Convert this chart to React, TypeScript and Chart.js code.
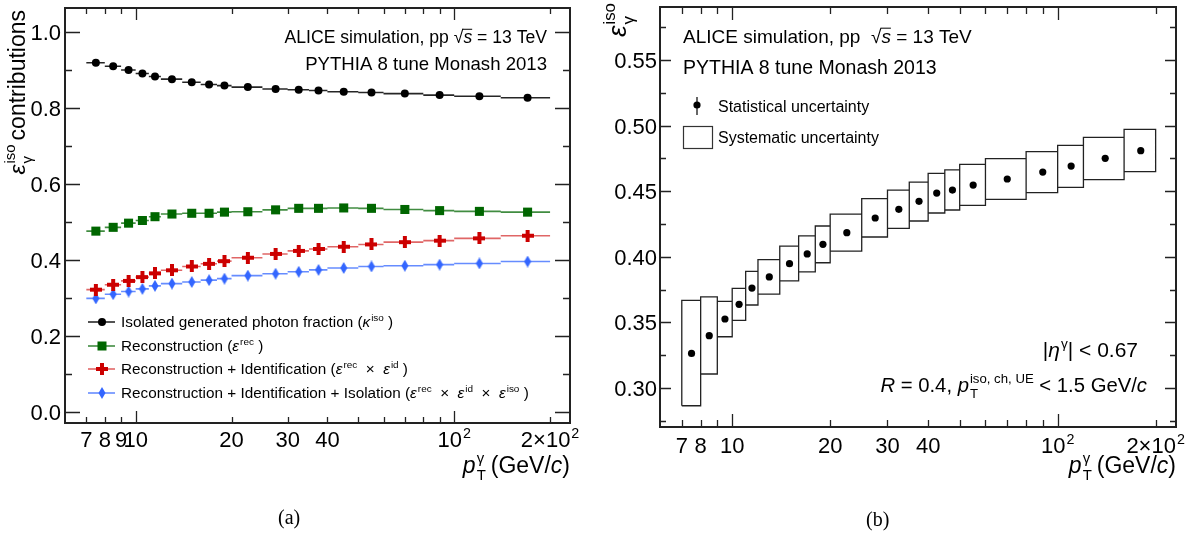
import React, { useEffect, useRef } from "react";
import { Chart, registerables } from "chart.js";
Chart.register(...registerables);

// ---------- Panel (a) data ----------
const binEdgesA = [7, 8, 9, 10, 11, 12, 14, 16, 18, 20, 25, 30, 35, 40, 50, 60, 80, 100, 140, 200];
const kappaIso = [0.919, 0.91, 0.9, 0.891, 0.883, 0.876, 0.868, 0.862, 0.859, 0.855, 0.85, 0.848, 0.846, 0.843, 0.841, 0.838, 0.834, 0.831, 0.827];
const epsRec = [0.476, 0.486, 0.497, 0.504, 0.514, 0.521, 0.523, 0.523, 0.526, 0.527, 0.532, 0.536, 0.536, 0.537, 0.536, 0.533, 0.53, 0.528, 0.526];
const epsRecId = [0.322, 0.335, 0.345, 0.355, 0.365, 0.373, 0.383, 0.39, 0.397, 0.406, 0.416, 0.424, 0.429, 0.435, 0.441, 0.447, 0.451, 0.457, 0.464];
const epsRecIdIso = [0.299, 0.31, 0.317, 0.324, 0.332, 0.338, 0.342, 0.347, 0.351, 0.359, 0.364, 0.369, 0.374, 0.379, 0.383, 0.385, 0.388, 0.391, 0.396];
const xTickValsA = [7, 8, 9, 10, 20, 30, 40, 100, 200];
const xTickLabelsA = ["7", "8", "9", "10", "20", "30", "40", "10^2", "2×10^2"];
const yTickValsA = [0, 0.2, 0.4, 0.6, 0.8, 1.0];
const yTickLabelsA = ["0.0", "0.2", "0.4", "0.6", "0.8", "1.0"];
const yMinorA = [0.1, 0.3, 0.5, 0.7, 0.9];

// ---------- Panel (b) data ----------
const binEdgesB = [7, 8, 9, 10, 11, 12, 14, 16, 18, 20, 25, 30, 35, 40, 45, 50, 60, 80, 100, 120, 160, 200];
const effIso = [0.3264, 0.3399, 0.3526, 0.3638, 0.3762, 0.3847, 0.3948, 0.4022, 0.4095, 0.4184, 0.4296, 0.4362, 0.4423, 0.4486, 0.4509, 0.4547, 0.4593, 0.4646, 0.4692, 0.4751, 0.4809];
const sysHigh = [0.3668, 0.3694, 0.3661, 0.376, 0.3889, 0.3979, 0.4082, 0.4159, 0.4235, 0.4326, 0.4443, 0.4509, 0.457, 0.4636, 0.4662, 0.4705, 0.4748, 0.4801, 0.4849, 0.4911, 0.4972];
const sysLow = [0.2865, 0.3107, 0.3391, 0.3516, 0.3633, 0.3716, 0.3816, 0.3886, 0.3955, 0.4044, 0.4151, 0.4217, 0.4273, 0.4334, 0.4357, 0.4392, 0.4438, 0.4489, 0.453, 0.4588, 0.4649];
const xTickValsB = [7, 8, 10, 20, 30, 40, 100, 200];
const xTickLabelsB = ["7", "8", "10", "20", "30", "40", "10^2", "2×10^2"];
const yTickValsB = [0.3, 0.35, 0.4, 0.45, 0.5, 0.55];
const yTickLabelsB = ["0.30", "0.35", "0.40", "0.45", "0.50", "0.55"];
const yMinorB = [0.275, 0.325, 0.375, 0.425, 0.475, 0.525, 0.575];

const xMajor = [10, 100];
const xMinor = [7, 8, 9, 20, 30, 40, 50, 60, 70, 80, 90, 200];

const FONT = '"Liberation Sans", Arial, Helvetica, sans-serif';

type Part = { t?: string; i?: boolean; sup?: string; sub?: string; over?: boolean; gap?: number };

function fnt(size: number, italic?: boolean) {
  return `${italic ? "italic " : ""}${size}px ${FONT}`;
}

function richWidth(ctx: CanvasRenderingContext2D, parts: Part[], size: number) {
  let w = 0;
  for (const p of parts) {
    if (p.gap) w += p.gap;
    if (p.t) {
      ctx.font = fnt(size, p.i);
      w += ctx.measureText(p.t).width;
    }
    if (p.sup || p.sub) {
      ctx.font = fnt(size * 0.65);
      const a = p.sup ? ctx.measureText(p.sup).width : 0;
      const b = p.sub ? ctx.measureText(p.sub).width : 0;
      w += Math.max(a, b) + 1;
    }
  }
  return w;
}

function drawRich(ctx: CanvasRenderingContext2D, x: number, y: number, parts: Part[], size: number, align = "left", color = "#000") {
  const w = richWidth(ctx, parts, size);
  let cx = align === "left" ? x : align === "right" ? x - w : x - w / 2;
  ctx.fillStyle = color;
  ctx.strokeStyle = color;
  ctx.textAlign = "left";
  ctx.textBaseline = "alphabetic";
  for (const p of parts) {
    if (p.gap) cx += p.gap;
    if (p.t) {
      ctx.font = fnt(size, p.i);
      ctx.fillText(p.t, cx, y);
      const tw = ctx.measureText(p.t).width;
      if (p.over) {
        ctx.lineWidth = 1;
        ctx.beginPath();
        ctx.moveTo(cx - 1, y - size * 0.78);
        ctx.lineTo(cx + tw, y - size * 0.78);
        ctx.stroke();
      }
      cx += tw;
    }
    if (p.sup || p.sub) {
      ctx.font = fnt(size * 0.65);
      let a = 0, b = 0;
      if (p.sup) {
        ctx.fillText(p.sup, cx + 1, y - size * 0.42);
        a = ctx.measureText(p.sup).width;
      }
      if (p.sub) {
        ctx.fillText(p.sub, cx + 1, y + size * 0.3);
        b = ctx.measureText(p.sub).width;
      }
      cx += Math.max(a, b) + 1;
    }
  }
}

function labelParts(s: string): Part[] {
  const k = s.indexOf("^");
  if (k < 0) return [{ t: s }];
  return [{ t: s.slice(0, k) }, { sup: s.slice(k + 1) }];
}

function drawFrame(chart: any, xMaj: number, xMin: number, yMaj: number, yMin: number, yMajVals: number[], yMinVals: number[]) {
  const ctx: CanvasRenderingContext2D = chart.ctx;
  const { left, right, top, bottom } = chart.chartArea;
  const xs = chart.scales.x, ys = chart.scales.y;
  ctx.strokeStyle = "#222";
  ctx.lineWidth = 1.3;
  ctx.beginPath();
  const xt = [...xMajor.map((v) => [v, xMaj]), ...xMinor.map((v) => [v, xMin])];
  for (const [v, len] of xt) {
    const px = Math.round(xs.getPixelForValue(v)) + 0.5;
    ctx.moveTo(px, bottom); ctx.lineTo(px, bottom - len);
    ctx.moveTo(px, top); ctx.lineTo(px, top + len);
  }
  const yt = [...yMajVals.map((v) => [v, yMaj]), ...yMinVals.map((v) => [v, yMin])];
  for (const [v, len] of yt) {
    const py = Math.round(ys.getPixelForValue(v)) + 0.5;
    ctx.moveTo(left, py); ctx.lineTo(left + len, py);
    ctx.moveTo(right, py); ctx.lineTo(right - len, py);
  }
  ctx.stroke();
  ctx.lineWidth = 2;
  ctx.strokeRect(left, top, right - left, bottom - top);
}

const centers = (edges: number[]) => edges.slice(0, -1).map((lo, i) => (lo + edges[i + 1]) / 2);
function binSegments(edges: number[], vals: number[]) {
  const d: any[] = [];
  vals.forEach((v, i) => {
    d.push({ x: edges[i], y: v }, { x: edges[i + 1], y: v }, { x: edges[i + 1], y: null });
  });
  return d;
}
function boxes(edges: number[], lo: number[], hi: number[]) {
  const d: any[] = [];
  lo.forEach((l, i) => {
    const a = edges[i], b = edges[i + 1], h = hi[i];
    d.push({ x: a, y: l }, { x: a, y: h }, { x: b, y: h }, { x: b, y: l }, { x: a, y: l }, { x: a, y: null });
  });
  return d;
}
const pts = (c: number[], v: number[]) => v.map((y, i) => ({ x: c[i], y }));

const RED = "#cc0000";
const BLUE = "#3366ff";
const GREEN = "#006600";

function makeCross() {
  const c = document.createElement("canvas");
  c.width = 12; c.height = 12;
  const g = c.getContext("2d")!;
  g.fillStyle = RED;
  g.fillRect(0, 4, 12, 4);
  g.fillRect(4, 0, 4, 12);
  return c;
}
function makeDiamond() {
  const c = document.createElement("canvas");
  c.width = 8; c.height = 12;
  const g = c.getContext("2d")!;
  g.fillStyle = BLUE;
  g.beginPath();
  g.moveTo(4, 0); g.lineTo(7.5, 6); g.lineTo(4, 12); g.lineTo(0.5, 6); g.closePath();
  g.fill();
  return c;
}

const sqrtS: Part[] = [{ t: "ALICE simulation, pp  √" }, { t: "s", i: true, over: true }, { t: " = 13 TeV" }];
const sqrtSa: Part[] = [{ t: "ALICE simulation, pp √" }, { t: "s", i: true, over: true }, { t: " = 13 TeV" }];
const pythia: Part[] = [{ t: "PYTHIA 8 tune Monash 2013" }];
const ptTitle: Part[] = [{ t: "p", i: true }, { sup: "γ", sub: "T" }, { gap: 5 }, { t: "(GeV/" }, { t: "c", i: true }, { t: ")" }];
const eps: Part = { t: "ε", i: true };

function configA(cross: HTMLCanvasElement, diamond: HTMLCanvasElement): any {
  const c = centers(binEdgesA);
  const series = [
    { v: kappaIso, line: "rgba(0,0,0,0.85)", style: "circle", r: 4, col: "#000" },
    { v: epsRec, line: "rgba(0,102,0,0.75)", style: "rect", r: 6.4, col: GREEN },
    { v: epsRecId, line: "rgba(204,0,0,0.6)", style: cross, r: 6, col: RED },
    { v: epsRecIdIso, line: "rgba(51,102,255,0.75)", style: diamond, r: 6, col: BLUE },
  ];
  const datasets: any[] = [];
  series.forEach((s) => {
    datasets.push({ type: "line", data: binSegments(binEdgesA, s.v), borderColor: s.line, borderWidth: 1.6, pointRadius: 0, spanGaps: false, order: 2 });
    datasets.push({ type: "scatter", data: pts(c, s.v), pointStyle: s.style, pointRadius: s.r, backgroundColor: s.col, borderColor: s.col, borderWidth: 0, order: 0 });
  });
  const legend: { y: number; parts: Part[] }[] = [
    { y: 322, parts: [{ t: "Isolated generated photon fraction (" }, { t: "κ", i: true }, { sup: "iso" }, { t: " )" }] },
    { y: 346, parts: [{ t: "Reconstruction (" }, eps, { sup: "rec" }, { t: " )" }] },
    { y: 369, parts: [{ t: "Reconstruction + Identification (" }, eps, { sup: "rec" }, { t: "  ×  " }, eps, { sup: "id" }, { t: " )" }] },
    { y: 393, parts: [{ t: "Reconstruction + Identification + Isolation (" }, eps, { sup: "rec" }, { t: "  ×  " }, eps, { sup: "id" }, { t: "  ×  " }, eps, { sup: "iso" }, { t: " )" }] },
  ];
  const decor = {
    id: "decorA",
    afterDraw(chart: any) {
      const ctx: CanvasRenderingContext2D = chart.ctx;
      const { left, right, top } = chart.chartArea;
      const xs = chart.scales.x, ys = chart.scales.y;
      ctx.save();
      drawFrame(chart, 12, 6, 15, 7, yTickValsA, yMinorA);
      xTickValsA.forEach((v, i) => drawRich(ctx, xs.getPixelForValue(v), 447, labelParts(xTickLabelsA[i]), 22, "center"));
      yTickValsA.forEach((v, i) => drawRich(ctx, left - 4, ys.getPixelForValue(v) + 8, labelParts(yTickLabelsA[i]), 22, "right"));
      drawRich(ctx, right, 473, ptTitle, 23, "right");
      ctx.save();
      ctx.translate(25, top + 2);
      ctx.rotate(-Math.PI / 2);
      drawRich(ctx, 0, 0, [eps, { sup: "iso", sub: "γ" }, { gap: 4 }, { t: "contributions" }], 23, "right");
      ctx.restore();
      drawRich(ctx, 547, 43, sqrtSa, 17.6, "right");
      drawRich(ctx, 547, 70, pythia, 18.6, "right");
      legend.forEach((e, k) => {
        const s = series[k];
        ctx.strokeStyle = s.line;
        ctx.lineWidth = 1.6;
        ctx.beginPath();
        ctx.moveTo(88, e.y); ctx.lineTo(115, e.y);
        ctx.stroke();
        ctx.fillStyle = s.col;
        if (k === 0) { ctx.beginPath(); ctx.arc(102, e.y, 4, 0, Math.PI * 2); ctx.fill(); }
        else if (k === 1) ctx.fillRect(97.5, e.y - 4.5, 9, 9);
        else if (k === 2) ctx.drawImage(cross, 96, e.y - 6);
        else ctx.drawImage(diamond, 98, e.y - 6);
        drawRich(ctx, 121, e.y + 5, e.parts, 15.3, "left");
      });
      ctx.restore();
    },
  };
  return {
    data: { datasets },
    options: {
      responsive: false,
      animation: false,
      layout: { padding: { left: 65, top: 8, right: 30, bottom: 110 } },
      plugins: { legend: { display: false }, tooltip: { enabled: false } },
      scales: {
        x: { type: "logarithmic", min: 6, max: 231, display: false },
        y: { type: "linear", min: -0.0289, max: 1.0632, display: false },
      },
    },
    plugins: [decor],
  };
}

function configB(): any {
  const c = centers(binEdgesB);
  const datasets: any[] = [
    { type: "line", data: boxes(binEdgesB, sysLow, sysHigh), borderColor: "#222", borderWidth: 1.3, pointRadius: 0, spanGaps: false, order: 2 },
    { type: "scatter", data: pts(c, effIso), pointStyle: "circle", pointRadius: 3.6, backgroundColor: "#000", borderWidth: 0, order: 0 },
  ];
  const decor = {
    id: "decorB",
    afterDraw(chart: any) {
      const ctx: CanvasRenderingContext2D = chart.ctx;
      const { left, right, top } = chart.chartArea;
      const xs = chart.scales.x, ys = chart.scales.y;
      ctx.save();
      drawFrame(chart, 13, 7, 11, 6, yTickValsB, yMinorB);
      xTickValsB.forEach((v, i) => drawRich(ctx, xs.getPixelForValue(v), 453, labelParts(xTickLabelsB[i]), 22, "center"));
      yTickValsB.forEach((v, i) => drawRich(ctx, left - 3, ys.getPixelForValue(v) + 8, labelParts(yTickLabelsB[i]), 22, "right"));
      drawRich(ctx, right, 473, ptTitle, 23, "right");
      ctx.save();
      ctx.translate(26, top - 4);
      ctx.rotate(-Math.PI / 2);
      drawRich(ctx, 0, 0, [eps, { sup: "iso", sub: "γ" }], 26, "right");
      ctx.restore();
      drawRich(ctx, 83, 43, sqrtS, 19, "left");
      drawRich(ctx, 83, 74, pythia, 19.5, "left");
      // legend
      ctx.fillStyle = "#000";
      ctx.strokeStyle = "#000";
      ctx.lineWidth = 1.2;
      ctx.beginPath(); ctx.moveTo(97, 97); ctx.lineTo(97, 115); ctx.stroke();
      ctx.beginPath(); ctx.arc(97, 105, 3.6, 0, Math.PI * 2); ctx.fill();
      drawRich(ctx, 118, 112, [{ t: "Statistical uncertainty" }], 16, "left");
      ctx.strokeStyle = "#333";
      ctx.strokeRect(83.5, 126.5, 29, 22);
      drawRich(ctx, 118, 143, [{ t: "Systematic uncertainty" }], 16, "left");
      drawRich(ctx, 538, 357, [{ t: "|" }, { t: "η", i: true }, { sup: "γ" }, { t: "| < 0.67" }], 21, "right");
      drawRich(ctx, 547, 392, [{ t: "R", i: true }, { t: " = 0.4, " }, { t: "p", i: true }, { sup: "iso, ch, UE", sub: "T" }, { t: " < 1.5 GeV/" }, { t: "c", i: true }], 20.3, "right");
      ctx.restore();
    },
  };
  return {
    data: { datasets },
    options: {
      responsive: false,
      animation: false,
      layout: { padding: { left: 60, top: 7, right: 24, bottom: 106 } },
      plugins: { legend: { display: false }, tooltip: { enabled: false } },
      scales: {
        x: { type: "logarithmic", min: 6, max: 231, display: false },
        y: { type: "linear", min: 0.2703, max: 0.5904, display: false },
      },
    },
    plugins: [decor],
  };
}

export default function App() {
  const refA = useRef<HTMLCanvasElement>(null);
  const refB = useRef<HTMLCanvasElement>(null);
  useEffect(() => {
    const cross = makeCross();
    const diamond = makeDiamond();
    const chA = new Chart(refA.current!, configA(cross, diamond));
    const chB = new Chart(refB.current!, configB());
    return () => {
      chA.destroy();
      chB.destroy();
    };
  }, []);
  const cap: React.CSSProperties = { position: "absolute", font: '20px "Liberation Serif", "Times New Roman", serif', color: "#000", lineHeight: "24px" };
  return (
    <div style={{ position: "fixed", left: 0, top: 0, width: 1200, height: 533, background: "#fff" }}>
      <canvas ref={refA} width={600} height={533} style={{ position: "absolute", left: 0, top: 0 }} />
      <canvas ref={refB} width={600} height={533} style={{ position: "absolute", left: 600, top: 0 }} />
      <div style={{ ...cap, left: 278, top: 505 }}>(a)</div>
      <div style={{ ...cap, left: 866, top: 507 }}>(b)</div>
    </div>
  );
}
